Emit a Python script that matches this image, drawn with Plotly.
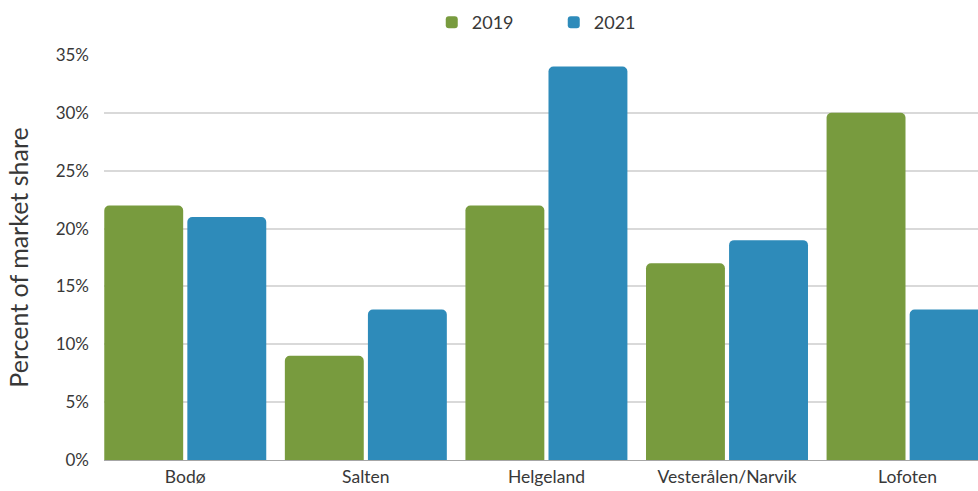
import plotly.graph_objects as go

regions = ["Bodø", "Salten", "Helgeland", "Vesterålen/Narvik", "Lofoten"]
share_2019 = [22, 9, 22, 17, 30]
share_2021 = [21, 13, 34, 19, 13]
y_ticks = [0, 5, 10, 15, 20, 25, 30, 35]
y_tick_labels = [f"{v}%" for v in y_ticks]

GREEN = "#789b3e"
BLUE = "#2e8bba"
FONT = "Lato"
TEXT = "#383838"

fig = go.Figure()
fig.add_trace(go.Bar(name="2019", x=regions, y=share_2019,
                     marker=dict(color=GREEN, line=dict(width=0))))
fig.add_trace(go.Bar(name="2021", x=regions, y=share_2021,
                     marker=dict(color=BLUE, line=dict(width=0))))

fig.update_layout(
    width=978, height=491,
    margin=dict(l=104, r=0, t=55, b=31),
    paper_bgcolor="white", plot_bgcolor="white",
    barmode="group", bargap=0.08, bargroupgap=0.05,
    barcornerradius=5,
    font=dict(family=FONT, size=16, color=TEXT),
    legend=dict(orientation="h", x=0.375, y=0.992, xanchor="left", yanchor="top",
                yref="container", font=dict(size=18, color=TEXT),
                itemwidth=30, entrywidth=77, entrywidthmode="pixels",
                traceorder="normal"),
    xaxis=dict(range=[-0.45, 4.39], showgrid=False, showline=True, automargin=False,
               linecolor="#a6a6a6", linewidth=1, ticks="", tickfont=dict(size=17.5),
               ticklabelstandoff=1),
    yaxis=dict(range=[0, 35], tickvals=y_ticks, ticktext=y_tick_labels, automargin=False,
               showgrid=True, gridcolor="#d9d9d9", gridwidth=1.5,
               zeroline=False, ticks="", ticklabelstandoff=14,
               tickfont=dict(size=17),
               title=dict(text="Percent of market share", font=dict(size=25, color=TEXT),
                          standoff=19)),
)

fig.write_html("out.html")
